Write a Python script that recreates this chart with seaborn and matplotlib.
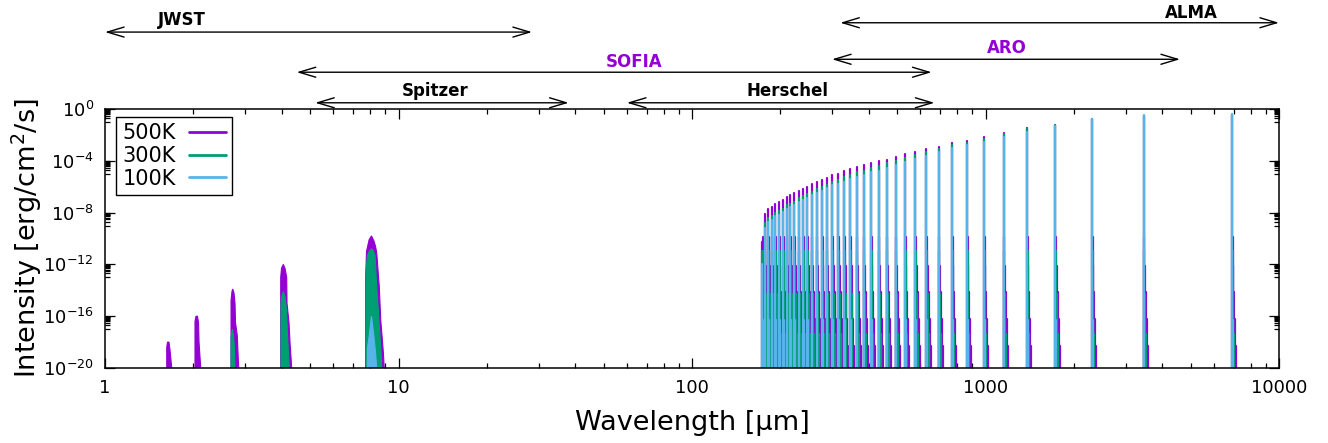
import numpy as np
import pandas as pd
import matplotlib
matplotlib.use("Agg")
import matplotlib.pyplot as plt
from matplotlib.lines import Line2D
from matplotlib.patches import ArrowStyle
from matplotlib.ticker import FixedLocator, FuncFormatter, NullFormatter
import seaborn as sns

# ---------------------------------------------------------------------------
# Data
# ---------------------------------------------------------------------------
temperatures = ["500K", "300K", "100K"]
palette = {"500K": "#9400D3", "300K": "#009E73", "100K": "#56B4E9"}

# Pure rotational ladder (v=0), wavelength in micron, J = 1 ... 40
rot_wl = [6920, 3460, 2307, 1730, 1384, 1153, 989, 865, 769, 692,
          629, 577, 532, 494, 461, 433, 407, 384, 364, 346,
          330, 315, 301, 288, 277, 266, 256, 247, 239, 231,
          223, 216, 210, 204, 198, 192, 187, 182, 177, 173]

# log10 of the line peak intensity [erg/cm^2/s]
rot_peak_500K = [-0.5, -0.55, -0.8, -1.2, -1.5, -1.85, -2.2, -2.45, -2.6, -2.9,
                 -3.1, -3.3, -3.5, -3.7, -3.9, -4.05, -4.2, -4.35, -4.5, -4.65,
                 -4.8, -5.0, -5.1, -5.3, -5.45, -5.6, -5.8, -6.0, -6.15, -6.3,
                 -6.5, -6.65, -6.8, -7.0, -7.2, -7.35, -7.55, -7.75, -8.1, -10.3]
rot_peak_300K = [-0.5, -0.55, -0.8, -1.2, -1.55, -1.9, -2.3, -2.6, -2.75, -3.1,
                 -3.3, -3.55, -3.75, -4.0, -4.2, -4.4, -4.55, -4.75, -4.9, -5.1,
                 -5.25, -5.5, -5.6, -5.85, -6.0, -6.15, -6.4, -6.6, -6.75, -6.9,
                 -7.15, -7.3, -7.45, -7.7, -7.9, -8.05, -8.25, -8.45, -8.8, -11.0]
rot_peak_100K = [-0.35, -0.45, -0.75, -1.3, -1.75, -2.15, -2.55, -2.8, -3.0, -3.35,
                 -3.6, -3.85, -4.1, -4.3, -4.55, -4.75, -4.9, -5.1, -5.25, -5.4,
                 -5.6, -5.8, -5.9, -6.1, -6.3, -6.45, -6.65, -6.85, -7.0, -7.2,
                 -7.4, -7.55, -7.7, -7.95, -8.15, -8.3, -8.55, -8.75, -9.2, -12.0]

# Hot-band satellites (v = 1 ... 5): wavelength relative to the v=0 line
hot_shift = [1.005, 1.011, 1.018, 1.026, 1.034]
hot_peak_500K = [-9.9, -12.1, -14.1, -16.2, -18.3]
hot_peak_300K = [-11.0, -14.3, -17.4]
hot_peak_100K = [-16.3]

# Near/mid-IR vibrational bands: envelope (wavelength [micron], log10 intensity)
band16_wl_500K = [1.623, 1.623, 1.633, 1.652, 1.665, 1.672, 1.688]
band16_lg_500K = [-20, -18.4, -18.0, -18.0, -18.6, -19.0, -20]

band20_wl_500K = [2.026, 2.026, 2.042, 2.066, 2.083, 2.091, 2.119]
band20_lg_500K = [-20, -16.4, -16.0, -16.0, -16.5, -18.0, -20]

band27_wl_500K = [2.688, 2.688, 2.708, 2.723, 2.751, 2.773, 2.784, 2.823, 2.854]
band27_lg_500K = [-20, -14.8, -14.1, -13.9, -14.2, -15.0, -16.5, -17.5, -20]
band27_wl_300K = [2.688, 2.688, 2.716, 2.740, 2.762, 2.773]
band27_lg_300K = [-20, -17.6, -17.0, -17.4, -18.5, -20]

band41_wl_500K = [3.969, 3.969, 3.994, 4.050, 4.105, 4.160, 4.170, 4.236, 4.269, 4.326]
band41_lg_500K = [-20, -13.0, -12.3, -12.0, -12.3, -13.0, -15.0, -16.5, -18.0, -20]
band41_wl_300K = [3.978, 3.978, 4.009, 4.050, 4.105, 4.154, 4.186, 4.246]
band41_lg_300K = [-20, -15.0, -14.4, -14.1, -14.5, -15.5, -17.5, -20]

band80_wl_500K = [7.73, 7.73, 7.78, 7.94, 8.09, 8.25, 8.35, 8.43, 8.60, 8.70, 8.88, 8.94]
band80_lg_500K = [-20, -13.0, -11.0, -10.1, -9.8, -10.2, -10.6, -11.1, -13.7, -16.3, -18.8, -20]
band80_wl_300K = [7.75, 7.75, 7.84, 7.94, 8.09, 8.19, 8.32, 8.43, 8.58, 8.72, 8.77]
band80_lg_300K = [-20, -12.5, -11.3, -11.0, -10.8, -10.9, -11.3, -13.7, -16.3, -18.8, -20]
band80_wl_100K = [7.83, 7.83, 7.94, 8.09, 8.25, 8.35, 8.43]
band80_lg_100K = [-20, -18.5, -17.6, -16.0, -17.6, -18.8, -20]

# Observatory coverage [micron]
facilities = ["JWST", "SOFIA", "Spitzer", "Herschel", "ALMA", "ARO"]
coverage_min = [1.0, 4.5, 5.2, 60, 320, 300]
coverage_max = [28.5, 655, 38, 670, 10000, 4600]

floor = 1e-20

# ---------------------------------------------------------------------------
# Long-form table of the line spectrum: each line is an impulse from the floor
# ---------------------------------------------------------------------------
rows = []
uid = 0
for T, peaks, hot in zip(temperatures,
                         [rot_peak_500K, rot_peak_300K, rot_peak_100K],
                         [hot_peak_500K, hot_peak_300K, hot_peak_100K]):
    for wl, pk in zip(rot_wl, peaks):
        comps = [(wl, pk)] + [(wl * s, h) for s, h in zip(hot_shift, hot)]
        for w, p in comps:
            rows.append((T, uid, w, floor))
            rows.append((T, uid, w, 10.0 ** p))
            uid += 1
lines_df = pd.DataFrame(rows, columns=["temperature", "line", "wavelength", "intensity"])

bands = [
    ("500K", band16_wl_500K, band16_lg_500K),
    ("500K", band20_wl_500K, band20_lg_500K),
    ("500K", band27_wl_500K, band27_lg_500K),
    ("500K", band41_wl_500K, band41_lg_500K),
    ("500K", band80_wl_500K, band80_lg_500K),
    ("300K", band27_wl_300K, band27_lg_300K),
    ("300K", band41_wl_300K, band41_lg_300K),
    ("300K", band80_wl_300K, band80_lg_300K),
    ("100K", band80_wl_100K, band80_lg_100K),
]

# ---------------------------------------------------------------------------
# Figure
# ---------------------------------------------------------------------------
sns.set_style("ticks")
plt.rcParams["font.family"] = ["DejaVu Sans"]
plt.rcParams["mathtext.fontset"] = "dejavusans"
for key in ("text.color", "axes.labelcolor", "xtick.color", "ytick.color", "axes.edgecolor"):
    plt.rcParams[key] = "black"

fig = plt.figure(figsize=(13.28, 4.43), dpi=100)
ax = fig.add_axes([105 / 1328, 75 / 443, 1174 / 1328, 259 / 443])
ax.set_xscale("log")
ax.set_yscale("log")

for T in temperatures:
    for t, wl, lg in bands:
        if t == T:
            ax.fill(wl, 10.0 ** np.asarray(lg), color=palette[T], lw=0.8, zorder=2)

sns.lineplot(data=lines_df, x="wavelength", y="intensity", hue="temperature",
             hue_order=temperatures, palette=palette, units="line",
             estimator=None, sort=False, linewidth=1.6, legend=False, ax=ax)

ax.set_xlim(1, 10000)
ax.set_ylim(1e-20, 1)

# axis ticks
ax.xaxis.set_major_locator(FixedLocator([1, 10, 100, 1000, 10000]))
ax.xaxis.set_major_formatter(FuncFormatter(lambda v, p: f"{v:g}"))
ax.xaxis.set_minor_locator(FixedLocator([k * 10.0 ** d for d in range(4) for k in range(2, 10)]))
ax.xaxis.set_minor_formatter(NullFormatter())

ymaj = [0, -4, -8, -12, -16, -20]
ax.yaxis.set_major_locator(FixedLocator([10.0 ** m for m in ymaj]))
ax.yaxis.set_major_formatter(FuncFormatter(lambda v, p: r"$10^{%d}$" % round(np.log10(v))))
ax.yaxis.set_minor_locator(FixedLocator([k * 10.0 ** (m - 1) for m in ymaj[:-1] for k in range(1, 10)]))
ax.yaxis.set_minor_formatter(NullFormatter())

ax.tick_params(which="both", direction="in", top=True, right=True, colors="black",
               labelsize=13, width=0.9)
ax.tick_params(which="major", length=7, pad=8)
ax.tick_params(which="minor", length=3.5)
for s in ax.spines.values():
    s.set_color("black")
    s.set_linewidth(1.1)

ax.set_xlabel("Wavelength [µm]", fontsize=19.5, labelpad=9, color="black")
ax.set_ylabel("Intensity [erg/cm$^{2}$/s]", fontsize=19.5, labelpad=-0.5, color="black")

# legend: label first, sample line after it
handles = [Line2D([0], [0], color=palette[T], lw=2) for T in temperatures]
leg = ax.legend(handles, temperatures, loc="upper left", bbox_to_anchor=(11 / 1174, 1 - 8 / 259),
                borderaxespad=0, markerfirst=False, frameon=True, fancybox=False,
                edgecolor="black", framealpha=1, fontsize=15, handlelength=1.75,
                handletextpad=0.65, labelspacing=0.13, borderpad=0.3)
leg.get_frame().set_linewidth(1.0)
for t in leg.get_texts():
    t.set_color("black")

# observatory coverage arrows above the axes
arrow_y = {"JWST": 1.297, "SOFIA": 1.142, "Spitzer": 1.024,
           "Herschel": 1.024, "ALMA": 1.333, "ARO": 1.192}
label_pos = {"JWST": (1.83, 1.344), "SOFIA": (63.4, 1.181), "Spitzer": (13.3, 1.071),
             "Herschel": (212, 1.071), "ALMA": (5015, 1.369), "ARO": (1184, 1.236)}
label_col = {"SOFIA": "#9400D3", "ARO": "#9400D3"}
trans = ax.get_xaxis_transform()
style = ArrowStyle("<->", head_length=12, head_width=3.6)
for name, lo, hi in zip(facilities, coverage_min, coverage_max):
    y = arrow_y[name]
    ax.annotate("", xy=(hi, y), xytext=(lo, y), xycoords=trans, textcoords=trans,
                annotation_clip=False,
                arrowprops=dict(arrowstyle=style, mutation_scale=1, lw=1.0,
                                color="black", shrinkA=0, shrinkB=0))
    lx, ly = label_pos[name]
    ax.text(lx, ly, name, transform=trans, ha="center", va="center",
            fontsize=12, fontweight="bold", color=label_col.get(name, "black"),
            clip_on=False)

fig.savefig("out.png", dpi=100)
